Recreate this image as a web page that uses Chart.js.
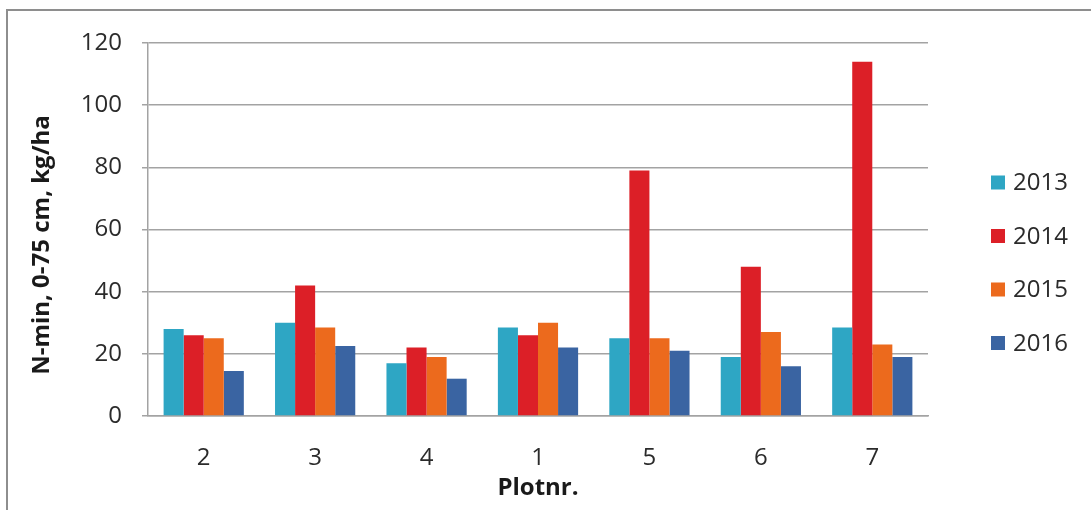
<!DOCTYPE html>
<html>
<head>
<meta charset="utf-8">
<script src="https://cdn.jsdelivr.net/npm/chart.js@4"></script>
<style>
  html, body { margin: 0; padding: 0; background: #ffffff; overflow: hidden; }
  #wrap { position: relative; width: 1091px; height: 510px; }
</style>
</head>
<body>
<div id="wrap"><canvas id="chart" width="1091" height="510"></canvas></div>
<script>
// Plot numbers, in the order they appear along the x axis
const categories = ['2', '3', '4', '1', '5', '6', '7'];

// N-min (0-75 cm), kg/ha, per plot and year
const years = ['2013', '2014', '2015', '2016'];
const values2013 = [28, 30, 17, 28.5, 25, 19, 28.5];
const values2014 = [26, 42, 22, 26, 79, 48, 114];
const values2015 = [25, 28.5, 19, 30, 25, 27, 23];
const values2016 = [14.5, 22.5, 12, 22, 21, 16, 19];

const yTicks = [0, 20, 40, 60, 80, 100, 120];

const colors = ['#2ea6c4', '#dc1f27', '#ec6a1d', '#3a64a2'];
const seriesValues = [values2013, values2014, values2015, values2016];

const FONT = "'Open Sans', 'DejaVu Sans', sans-serif";
const GRID = '#a3a3a3';
const TEXT = '#2b2b2b';

// Outer frame and white background
const framePlugin = {
  id: 'frame',
  beforeDraw(chart) {
    const ctx = chart.ctx;
    ctx.save();
    ctx.fillStyle = '#ffffff';
    ctx.fillRect(0, 0, chart.width, chart.height);
    ctx.strokeStyle = '#8e8e8e';
    ctx.lineWidth = 2;
    ctx.strokeRect(7, 10, chart.width + 20, chart.height + 20);
    ctx.restore();
  }
};

// Vertical y-axis title, centred a little below the plot middle
const yTitlePlugin = {
  id: 'yTitle',
  afterDraw(chart) {
    const ctx = chart.ctx;
    ctx.save();
    ctx.translate(42, 245);
    ctx.rotate(-Math.PI / 2);
    ctx.font = "bold 24px " + FONT;
    ctx.fillStyle = '#1a1a1a';
    ctx.textAlign = 'center';
    ctx.textBaseline = 'middle';
    ctx.fillText('N-min, 0-75 cm, kg/ha', 0, 0);
    ctx.restore();
  }
};

// Legend column on the right, one square swatch per year
const legendPlugin = {
  id: 'sideLegend',
  afterDraw(chart) {
    const ctx = chart.ctx;
    ctx.save();
    ctx.font = "24px " + FONT;
    ctx.textBaseline = 'middle';
    ctx.textAlign = 'left';
    chart.data.datasets.forEach((ds, i) => {
      const cy = 182.5 + i * 53.5;
      ctx.fillStyle = ds.backgroundColor;
      ctx.fillRect(991, cy - 7, 14, 14);
      ctx.fillStyle = TEXT;
      ctx.fillText(ds.label, 1013, cy + 1);
    });
    ctx.restore();
  }
};

new Chart(document.getElementById('chart'), {
  type: 'bar',
  data: {
    labels: categories,
    datasets: years.map((y, i) => ({
      label: y,
      data: seriesValues[i],
      backgroundColor: colors[i],
      borderWidth: 0,
      categoryPercentage: 0.72,
      barPercentage: 1.0
    }))
  },
  options: {
    responsive: false,
    animation: false,
    events: [],
    layout: { padding: { left: 0, top: 43, right: 163, bottom: 0 } },
    plugins: {
      legend: { display: false },
      tooltip: { enabled: false }
    },
    scales: {
      x: {
        grid: { display: false, drawTicks: false },
        border: { display: true, color: GRID, width: 1.5 },
        ticks: {
          padding: 28,
          color: TEXT,
          font: { family: FONT, size: 24 }
        },
        title: {
          display: true,
          text: 'Plotnr.',
          color: '#1a1a1a',
          font: { family: FONT, size: 24, weight: 'bold' },
          padding: { top: 0, bottom: 7 }
        },
        afterFit(scale) { scale.height = 94; }
      },
      y: {
        min: 0,
        max: 120,
        afterBuildTicks(scale) { scale.ticks = yTicks.map(v => ({ value: v })); },
        grid: { color: GRID, lineWidth: 1.5, tickLength: 6, tickColor: GRID },
        border: { display: true, color: GRID, width: 1.5 },
        ticks: {
          padding: 20,
          color: TEXT,
          font: { family: FONT, size: 24 }
        },
        afterFit(scale) { scale.width = 148; }
      }
    }
  },
  plugins: [framePlugin, yTitlePlugin, legendPlugin]
});
</script>
</body>
</html>
